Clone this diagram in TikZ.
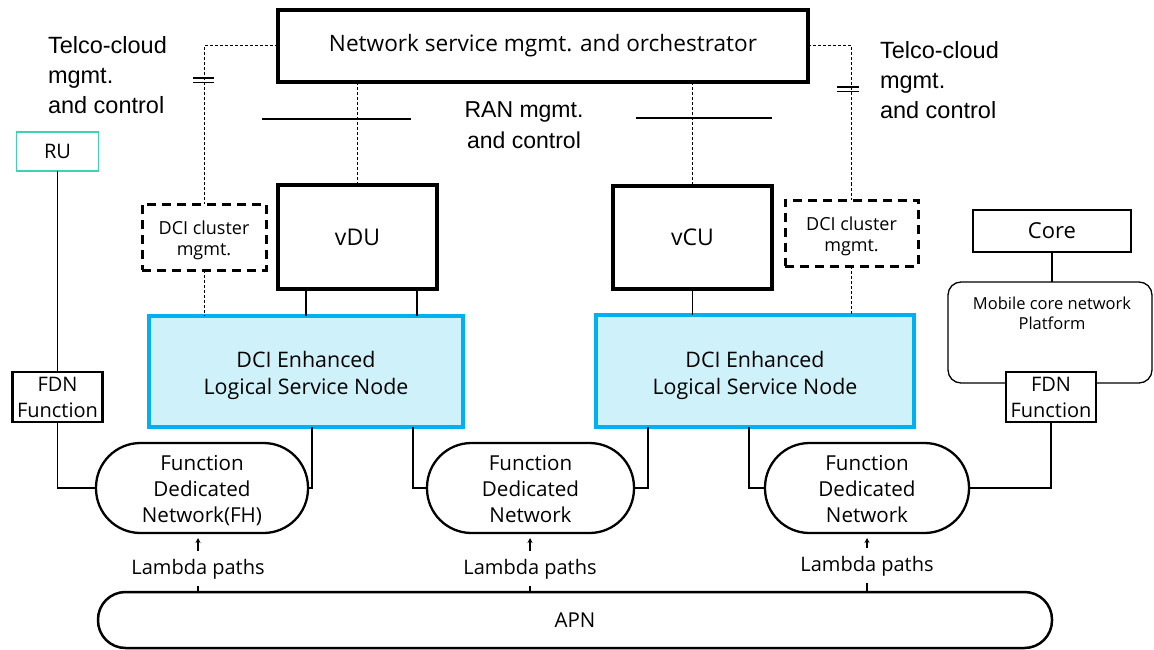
\documentclass[tikz,border=0pt]{standalone}
\usepackage{fontspec}
\setmainfont{Open Sans}
\newfontfamily\arialf{Liberation Sans}
\usetikzlibrary{arrows.meta}
\definecolor{lsnfill}{RGB}{207,241,250}
\definecolor{lsnborder}{RGB}{0,176,240}
\definecolor{rucol}{RGB}{64,208,180}
\tikzset{
  every node/.style={inner sep=0pt, outer sep=0pt},
  thickbox/.style={draw, line width=3.2pt, fill=white, align=center},
  fdnbox/.style={draw, line width=2.4pt, fill=white, align=center, font=\fontsize{20}{26}\selectfont},
  dcibox/.style={draw, line width=3pt, dash pattern=on 9pt off 6pt, fill=white},
  dcitext/.style={align=center, font=\fontsize{18}{21}\selectfont, yshift=-3pt},
  lsnbox/.style={draw=lsnborder, fill=lsnfill, line width=4pt},
  lsntext/.style={align=center, font=\fontsize{21.4}{27}\selectfont, yshift=-4pt},
  netbox/.style={draw, line width=2.3pt, rounded corners=44.5pt, fill=white},
  nettext/.style={align=center, font=\fontsize{20.6}{26}\selectfont, yshift=-3pt},
  conn/.style={line width=1.2pt},
  dashline/.style={line width=1pt, dash pattern=on 3pt off 2pt},
  armtext/.style={font=\arialf\fontsize{23.5}{30}\selectfont, align=left},
  lambda/.style={font=\fontsize{20}{24}\selectfont},
  uparrow/.style={line width=1.2pt, -{Stealth[length=5pt,width=5pt]}, shorten >=5pt}
}
\begin{document}
\begin{tikzpicture}[x=1pt,y=-1pt]
\useasboundingbox (0,0) rectangle (1154,650);

% top orchestrator
\node[thickbox, minimum width=530pt, minimum height=72pt, font=\fontsize{22.6}{26}\selectfont] (nso) at (543,46) {Network service mgmt. and orchestrator};

% texts
\node[armtext, anchor=north west] (tcl) at (48,36) {Telco-cloud\\mgmt.\\and control};
\node[armtext, anchor=north west] (tcr) at (880,41) {Telco-cloud\\mgmt.\\and control};
\node[font=\arialf\fontsize{23}{31}\selectfont, align=center, anchor=north] (ran) at (524,101.5) {RAN mgmt.\\and control};

% boxes
\node[thickbox, minimum width=159pt, minimum height=104pt, font=\fontsize{23}{26}\selectfont] (vdu) at (357.5,237) {vDU};
\node[thickbox, minimum width=159pt, minimum height=103pt, font=\fontsize{23}{26}\selectfont] (vcu) at (692.5,237.5) {vCU};
\node[dcibox, minimum width=124pt, minimum height=66pt, label={[dcitext]center:{DCI cluster\\mgmt.}}] (dcil) at (204,237) {};
\node[dcibox, minimum width=133pt, minimum height=66pt, label={[dcitext]center:{DCI cluster\\mgmt.}}] (dcir) at (851.5,233) {};
\node[lsnbox, minimum width=314pt, minimum height=111pt, label={[lsntext]center:{DCI Enhanced\\Logical Service Node}}] (lsnl) at (306,371.5) {};
\node[lsnbox, minimum width=318pt, minimum height=112pt, label={[lsntext]center:{DCI Enhanced\\Logical Service Node}}] (lsnr) at (755,371) {};
\node[draw=rucol, line width=1.5pt, fill=white, minimum width=82pt, minimum height=39pt, font=\fontsize{20}{24}\selectfont] (ru) at (57.5,151.5) {RU};
\node[fdnbox, minimum width=90pt, minimum height=50pt] (fdnl) at (57.5,397) {FDN\\Function};
\node[draw, line width=1.5pt, fill=white, minimum width=158pt, minimum height=42pt, font=\fontsize{22}{26}\selectfont] (core) at (1052,231) {Core};
\node[draw, line width=1.3pt, rounded corners=13pt, minimum width=204pt, minimum height=101pt] (mcp) at (1050,332.5) {};
\node[font=\fontsize{16.5}{20}\selectfont, align=center] (mcpt) at (1052,313) {Mobile core network\\Platform};
\node[fdnbox, minimum width=90pt, minimum height=50pt] (fdnr) at (1051,397) {FDN\\Function};

\node[netbox, minimum width=212pt, minimum height=90pt, label={[nettext]center:{Function\\Dedicated\\Network(FH)}}] (fhnet) at (202,488) {};
\node[netbox, minimum width=207pt, minimum height=90pt, label={[nettext, yshift=2pt]center:{Function\\Dedicated\\Network}}] (cnet) at (530.5,488) {};
\node[netbox, minimum width=204pt, minimum height=90pt, label={[nettext, yshift=2pt]center:{Function\\Dedicated\\Network}}] (rnet) at (867,488) {};
\node[draw, line width=2.5pt, rounded corners=27.5pt, minimum width=954pt, minimum height=56pt, font=\fontsize{20.5}{24}\selectfont] (apn) at (575,620) {APN};

% dashed management connectors
\draw[dashline] (nso.west) -| (dcil.north);
\draw[dashline] (dcil.south) -- (dcil.south |- lsnl.north);
\draw[dashline] (nso.east) -| (dcir.north);
\draw[dashline] (dcir.south) -- (dcir.south |- lsnr.north);
\draw[dashline] (vdu.north |- nso.south) -- (vdu.north);
\draw[dashline] (vcu.north |- nso.south) -- (vcu.north);
% double ticks
\draw[line width=1.4pt] (193,78) -- (214,78) (193,82.5) -- (214,82.5);
\draw[line width=1.4pt] (837,87) -- (859,87) (837,91.5) -- (859,91.5);
% RAN separators
\draw[conn] (262,119) -- (411,119);
\draw[conn] (636,118) -- (772,118);

% solid connectors
\draw[conn] (ru.south) -- (fdnl.north);
\draw[conn] (fdnl.south) |- (fhnet.west);
\draw[conn] ([xshift=28pt]vdu.south west) -- ([xshift=28pt]vdu.south west |- lsnl.north);
\draw[conn] ([xshift=-20pt]vdu.south east) -- ([xshift=-20pt]vdu.south east |- lsnl.north);
\draw[conn] ([xshift=163pt]lsnl.south west) |- (fhnet.east);
\draw[conn] ([xshift=-50pt]lsnl.south east) |- (cnet.west);
\draw[conn] (vcu.south) -- (vcu.south |- lsnr.north);
\draw[conn] ([xshift=52pt]lsnr.south west) |- (cnet.east);
\draw[conn] ([xshift=-165pt]lsnr.south east) |- (rnet.west);
\draw[conn] (core.south) -- (core.south |- mcp.north);
\draw[conn] (fdnr.south) |- (rnet.east);

% lambda paths
\node[lambda] (l1) at (198,569) {Lambda paths};
\node[lambda] (l2) at (530,569) {Lambda paths};
\node[lambda] (l3) at (867,566) {Lambda paths};
\coordinate (a1) at (198,551);
\coordinate (a2) at (530,551);
\coordinate (a3) at (867,548);
\draw[uparrow] (a1) -- (a1 |- fhnet.south);
\draw[uparrow] (a2) -- (a2 |- cnet.south);
\draw[uparrow] (a3) -- (a3 |- rnet.south);
\coordinate (t1) at (198,586);
\coordinate (t2) at (530,586);
\coordinate (t3) at (867,583);
\draw[conn] (t1) -- (t1 |- apn.north);
\draw[conn] (t2) -- (t2 |- apn.north);
\draw[conn] (t3) -- (t3 |- apn.north);
\end{tikzpicture}
\end{document}
